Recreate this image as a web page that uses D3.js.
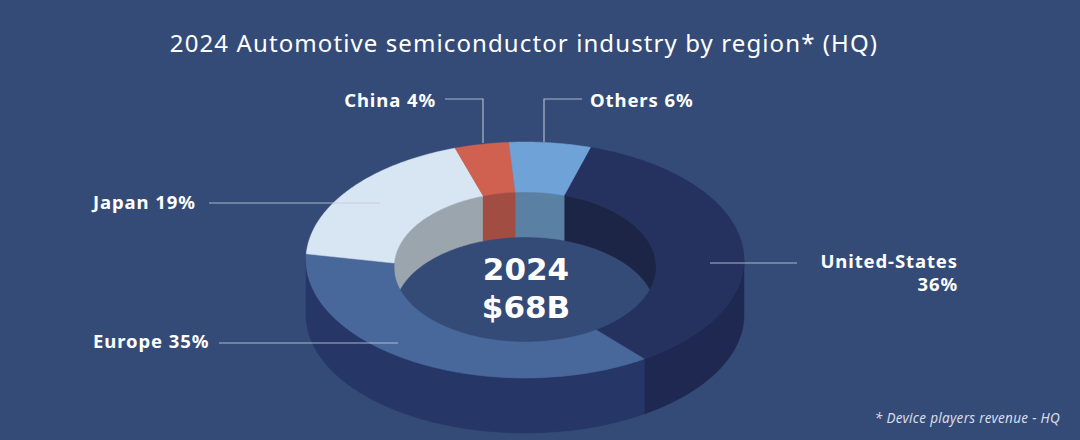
<!DOCTYPE html>
<html>
<head>
<meta charset="utf-8">
<script src="https://cdn.jsdelivr.net/npm/d3@7"></script>
<style>
  html, body { margin: 0; padding: 0; background: #344b78; }
  svg { display: block; }
  text { font-family: "Noto Sans", "DejaVu Sans", sans-serif; }
</style>
</head>
<body>
<svg id="chart" width="1080" height="440"></svg>
<script>
// ---- data ----
const regions = ["United-States", "Europe", "Japan", "China", "Others"];
const shares = [36, 35, 19, 4, 6];
const totalYear = "2024";
const totalValue = "$68B";
const titleText = "2024 Automotive semiconductor industry by region* (HQ)";
const footnoteText = "* Device players revenue - HQ";

// ---- styles ----
const topColors  = ["#25325f", "#48689b", "#d8e6f4", "#d0604f", "#6fa3d8"];
const sideColors = ["#1e2850", "#263667", "#8f9aa6", "#9c4a40", "#557a9e"];
const innerColors = ["#1c2545", "#3b5584", "#9aa5ae", "#a24d42", "#5a80a3"];

const W = 1080, H = 440;
const svg = d3.select("#chart");
svg.append("rect").attr("width", W).attr("height", H).attr("fill", "#344b78");

// ellipse geometry (projected tilted ring)
const outer = { cx: 525, cy: 260, rx: 219, ry: 118 };
const inner = { cx: 525, cy: 267, rx: 131, ry: 75 };
const depthOut = 55, depthIn = 45;

const startDeg = 17.4;
const pie = d3.pie().sort(null).value(d => d.v)
  .startAngle(startDeg * Math.PI / 180)
  .endAngle(startDeg * Math.PI / 180 + 2 * Math.PI);
const arcs = pie(regions.map((r, i) => ({ r, v: shares[i], i })));

function pt(e, a, dy = 0) {
  return [e.cx + e.rx * Math.sin(a), e.cy - e.ry * Math.cos(a) + dy];
}
function samples(a0, a1) {
  const n = Math.max(2, Math.ceil(Math.abs(a1 - a0) / (Math.PI / 360)));
  return d3.range(n + 1).map(k => a0 + (a1 - a0) * k / n);
}
const line = d3.line().curve(d3.curveLinearClosed);

function intersect(a0, a1, r0, r1) {
  const s = Math.max(a0, r0), e = Math.min(a1, r1);
  return s < e ? [s, e] : null;
}

const PI = Math.PI;
const g = svg.append("g");

// inner walls (back half of the hole)
arcs.forEach(d => {
  [[-PI / 2, PI / 2], [3 * PI / 2, 5 * PI / 2]].forEach(([r0, r1]) => {
    const seg = intersect(d.startAngle, d.endAngle, r0, r1);
    if (!seg) return;
    const top = samples(seg[0], seg[1]).map(a => pt(inner, a));
    const bot = samples(seg[1], seg[0]).map(a => pt(inner, a, depthIn));
    g.append("path").attr("d", line(top.concat(bot)))
      .attr("fill", innerColors[d.data.i]).attr("stroke", innerColors[d.data.i]).attr("stroke-width", 0.5);
  });
});

// outer side walls (front half)
arcs.forEach(d => {
  const seg = intersect(d.startAngle, d.endAngle, PI / 2, 3 * PI / 2);
  if (!seg) return;
  const top = samples(seg[0], seg[1]).map(a => pt(outer, a));
  const bot = samples(seg[1], seg[0]).map(a => pt(outer, a, depthOut));
  g.append("path").attr("d", line(top.concat(bot)))
    .attr("fill", sideColors[d.data.i]).attr("stroke", sideColors[d.data.i]).attr("stroke-width", 0.5);
});

// top faces
arcs.forEach(d => {
  const o = samples(d.startAngle, d.endAngle).map(a => pt(outer, a));
  const n = samples(d.endAngle, d.startAngle).map(a => pt(inner, a));
  g.append("path").attr("d", line(o.concat(n)))
    .attr("fill", topColors[d.data.i]).attr("stroke", topColors[d.data.i]).attr("stroke-width", 0.5);
});

// center text (one block, two lines)
const center = svg.append("text").attr("text-anchor", "middle")
  .attr("fill", "#ffffff").attr("font-size", 31).attr("font-weight", 700)
  .style("font-family", "'DejaVu Sans', sans-serif");
center.append("tspan").attr("x", 526).attr("y", 280).text(totalYear);
center.append("tspan").attr("x", 526).attr("y", 318).text(totalValue);

// title
svg.append("text").attr("x", 524).attr("y", 52).attr("text-anchor", "middle")
  .attr("fill", "#ffffff").attr("font-size", 24).attr("font-weight", 400)
  .attr("letter-spacing", 1.1).text(titleText);

// footnote
svg.append("text").attr("x", 1060).attr("y", 423).attr("text-anchor", "end")
  .attr("fill", "#d8dce8").attr("font-size", 13.5).attr("font-style", "italic")
  .attr("letter-spacing", 0.3).text(footnoteText);

// labels (layout only)
const labelLayout = {
  "China":        { tx: 436, ty: 107, anchor: "end",   pts: [[445, 99], [483, 99], [483, 143]] },
  "Others":       { tx: 590, ty: 107, anchor: "start", pts: [[582, 99], [544, 99], [544, 142]] },
  "Japan":        { tx: 93,  ty: 209, anchor: "start", pts: [[209, 203], [380, 203]] },
  "Europe":       { tx: 93,  ty: 348, anchor: "start", pts: [[219, 343], [398, 343]] },
  "United-States":{ tx: 958, ty: 268, anchor: "end",   pts: [[797, 263], [710, 263]] }
};
const lineGen = d3.line();
const labelFont = 18.5, labelSpacing = 0.9;
arcs.forEach(d => {
  const L = labelLayout[d.data.r];
  svg.append("path").attr("d", lineGen(L.pts)).attr("fill", "none")
    .attr("stroke", "#c3cad8").attr("stroke-opacity", 0.85).attr("stroke-width", 1.2);
  const t = svg.append("text").attr("text-anchor", L.anchor)
    .attr("fill", "#ffffff").attr("font-size", labelFont).attr("font-weight", 700)
    .attr("letter-spacing", labelSpacing);
  if (d.data.r === "United-States") {
    t.append("tspan").attr("x", L.tx).attr("y", L.ty).text(d.data.r);
    t.append("tspan").attr("x", L.tx).attr("y", L.ty + 23).text(d.data.v + "%");
  } else {
    t.attr("x", L.tx).attr("y", L.ty).text(d.data.r + " " + d.data.v + "%");
  }
});
</script>
</body>
</html>
